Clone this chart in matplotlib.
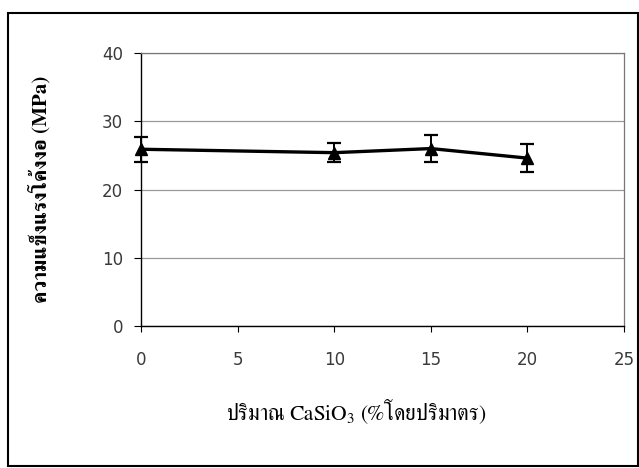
import matplotlib
matplotlib.use('Agg')
import matplotlib.pyplot as plt
from matplotlib.patches import Rectangle

# CaSiO3 content (% by volume) vs flexural strength (MPa)
casio3 = [0, 10, 15, 20]
strength = [25.9, 25.4, 26.0, 24.6]
err_strength = [1.8, 1.4, 2.0, 2.0]

x_ticks = [0, 5, 10, 15, 20, 25]
y_ticks = [0, 10, 20, 30, 40]

x_label = 'ปริมาณ CaSiO$_3$ (%โดยปริมาตร)'
y_label = 'ความแข็งแรงโค้งงอ (MPa)'

thai_font = ['FreeSerif', 'DejaVu Serif']
plt.rcParams['mathtext.fontset'] = 'stix'

fig = plt.figure(figsize=(6.39, 4.68), dpi=100)
ax = fig.add_axes([0.2207, 0.3034, 0.7559, 0.5833])

# outer frame of the chart
fig.patches.append(Rectangle((0.013, 0.004), 0.985, 0.968, transform=fig.transFigure,
                             fill=False, edgecolor='black', linewidth=1.5))

ax.errorbar(casio3, strength, yerr=err_strength, color='black', linewidth=2.4,
            marker='^', markersize=9, capsize=5, capthick=1.6, elinewidth=1.4,
            zorder=3, clip_on=False)

ax.set_xlim(0, 25)
ax.set_ylim(0, 40)
ax.set_xticks(x_ticks)
ax.set_yticks(y_ticks)
ax.yaxis.grid(True, color='#9a9a9a', linewidth=0.9)
ax.set_axisbelow(True)

for s in ['top', 'right']:
    ax.spines[s].set_color('#777777')
    ax.spines[s].set_linewidth(0.9)
for s in ['left', 'bottom']:
    ax.spines[s].set_color('black')
    ax.spines[s].set_linewidth(1.0)

ax.tick_params(axis='x', direction='out', length=4, pad=14, labelsize=12, labelcolor='#3a3a3a')
ax.tick_params(axis='y', direction='out', length=5, pad=8, labelsize=12, labelcolor='#3a3a3a')

ax.set_xlabel(x_label, family=thai_font, fontsize=15.5)
ax.xaxis.set_label_coords(0.445, -0.262)
ax.set_ylabel(y_label, family=thai_font, fontsize=15, fontweight='bold', labelpad=37)

fig.savefig('out.png')
